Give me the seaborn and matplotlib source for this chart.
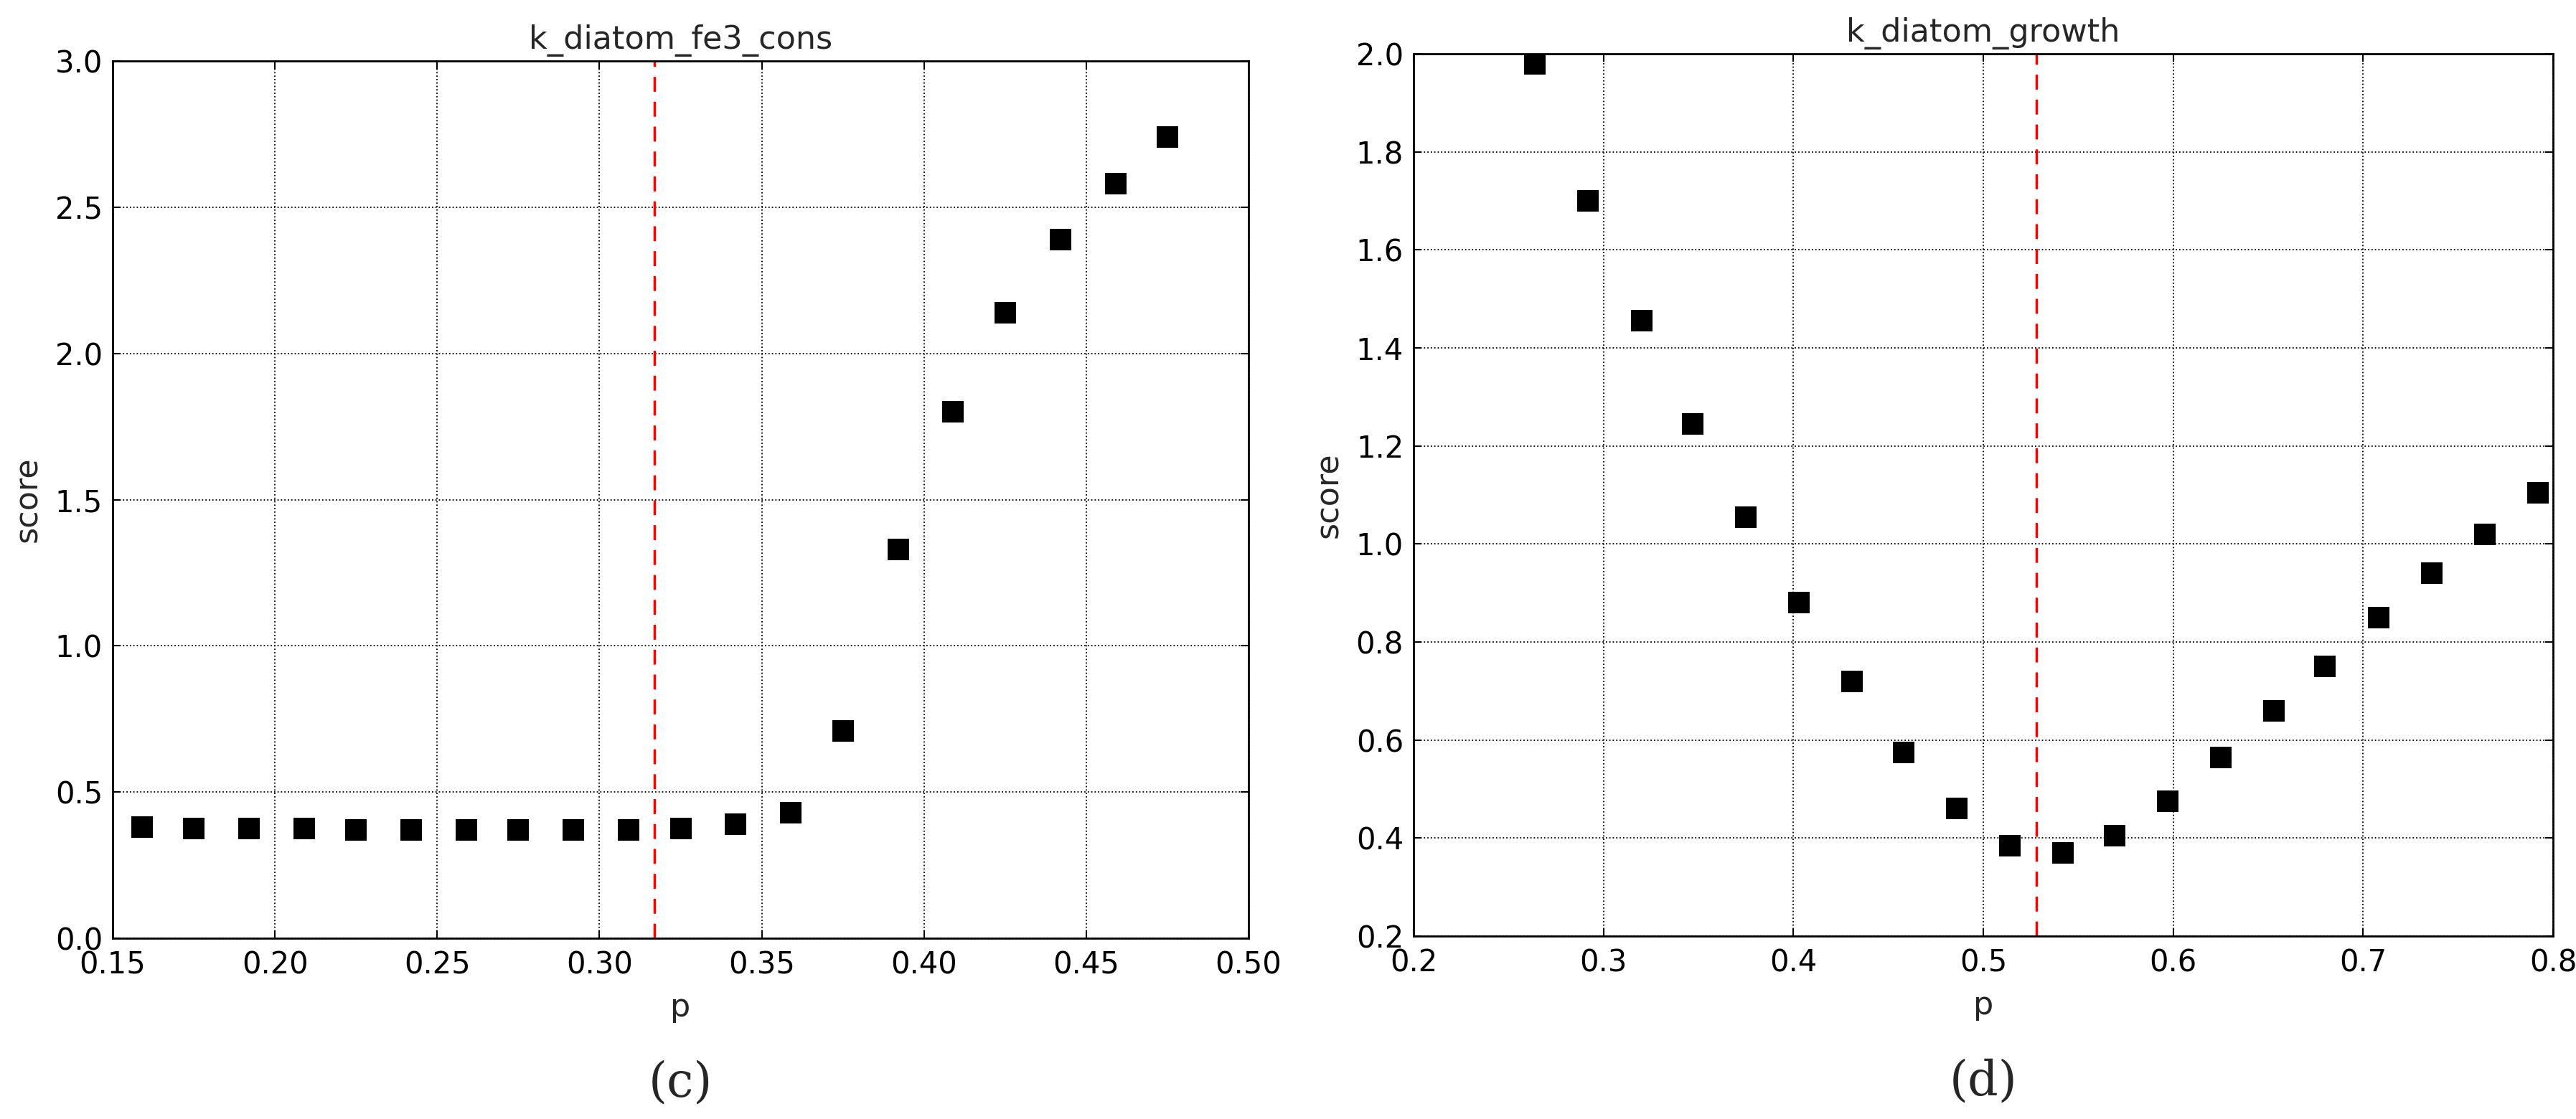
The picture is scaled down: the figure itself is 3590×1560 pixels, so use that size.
import matplotlib
matplotlib.use("Agg")
import matplotlib.pyplot as plt
import seaborn as sns
import pandas as pd

# panel (c)
fe3_p = [0.159, 0.175, 0.192, 0.209, 0.225, 0.242, 0.259, 0.275, 0.292, 0.309,
         0.325, 0.342, 0.359, 0.375, 0.392, 0.409, 0.425, 0.442, 0.459, 0.475]
fe3_score = [0.38, 0.375, 0.375, 0.375, 0.37, 0.37, 0.37, 0.37, 0.37, 0.37,
             0.375, 0.39, 0.43, 0.71, 1.33, 1.80, 2.14, 2.39, 2.58, 2.74]
fe3_opt = 0.317

# panel (d)
growth_p = [0.264, 0.292, 0.320, 0.347, 0.375, 0.403, 0.431, 0.458, 0.486, 0.514,
            0.542, 0.569, 0.597, 0.625, 0.653, 0.680, 0.708, 0.736, 0.764, 0.792]
growth_score = [1.98, 1.70, 1.455, 1.245, 1.055, 0.88, 0.72, 0.575, 0.46, 0.385,
                0.37, 0.405, 0.475, 0.565, 0.66, 0.75, 0.85, 0.94, 1.02, 1.105]
growth_opt = 0.528

sns.set_theme(style="white")
plt.rcParams["font.family"] = ["DejaVu Sans"]

fig = plt.figure(figsize=(35.9, 15.6), dpi=100)
ax1 = fig.add_axes([157 / 3590, 1 - 1308 / 1560, 1583 / 3590, 1223 / 1560])
ax2 = fig.add_axes([1970 / 3590, 1 - 1305 / 1560, 1588 / 3590, 1230 / 1560])

panels = [
    (ax1, fe3_p, fe3_score, fe3_opt, "k_diatom_fe3_cons", (0.15, 0.5), (0, 3.0),
     [0.15, 0.20, 0.25, 0.30, 0.35, 0.40, 0.45, 0.50], [0, 0.5, 1.0, 1.5, 2.0, 2.5, 3.0], "%.2f", "%.1f", "(c)"),
    (ax2, growth_p, growth_score, growth_opt, "k_diatom_growth", (0.2, 0.8), (0.2, 2.0),
     [0.2, 0.3, 0.4, 0.5, 0.6, 0.7, 0.8], [0.2, 0.4, 0.6, 0.8, 1.0, 1.2, 1.4, 1.6, 1.8, 2.0], "%.1f", "%.1f", "(d)"),
]

for ax, px, sc, opt, title, xl, yl, xt, yt, xf, yf, tag in panels:
    df = pd.DataFrame({"p": px, "score": sc})
    sns.scatterplot(data=df, x="p", y="score", ax=ax, marker="s", s=480,
                    color="black", edgecolor="black", linewidth=0, zorder=3)
    ax.axvline(opt, color="red", linestyle=(0, (6, 4)), linewidth=2.5, zorder=2)
    ax.set_xlim(*xl)
    ax.set_ylim(*yl)
    ax.set_xticks(xt)
    ax.set_yticks(yt)
    ax.set_xticklabels([xf % v for v in xt])
    ax.set_yticklabels([yf % v for v in yt])
    ax.grid(True, linestyle=":", color="black", linewidth=1.3)
    for s in ax.spines.values():
        s.set_color("black")
        s.set_linewidth(2)
    ax.tick_params(labelsize=30, length=8, width=1.5, direction="in", colors="black",
                   top=True, right=True, bottom=True, left=True)
    ax.tick_params(axis="x", pad=12)
    ax.tick_params(axis="y", pad=10)
    ax.set_title(title, fontsize=32, pad=12)
    ax.set_xlabel("p", fontsize=32, labelpad=12)
    ax.set_ylabel("score", fontsize=32, labelpad=12)
    ax.text(0.5, -0.165, tag, transform=ax.transAxes, ha="center", va="center",
            fontsize=48, family="DejaVu Serif")

fig.savefig("out.png", dpi=100, facecolor="white")
